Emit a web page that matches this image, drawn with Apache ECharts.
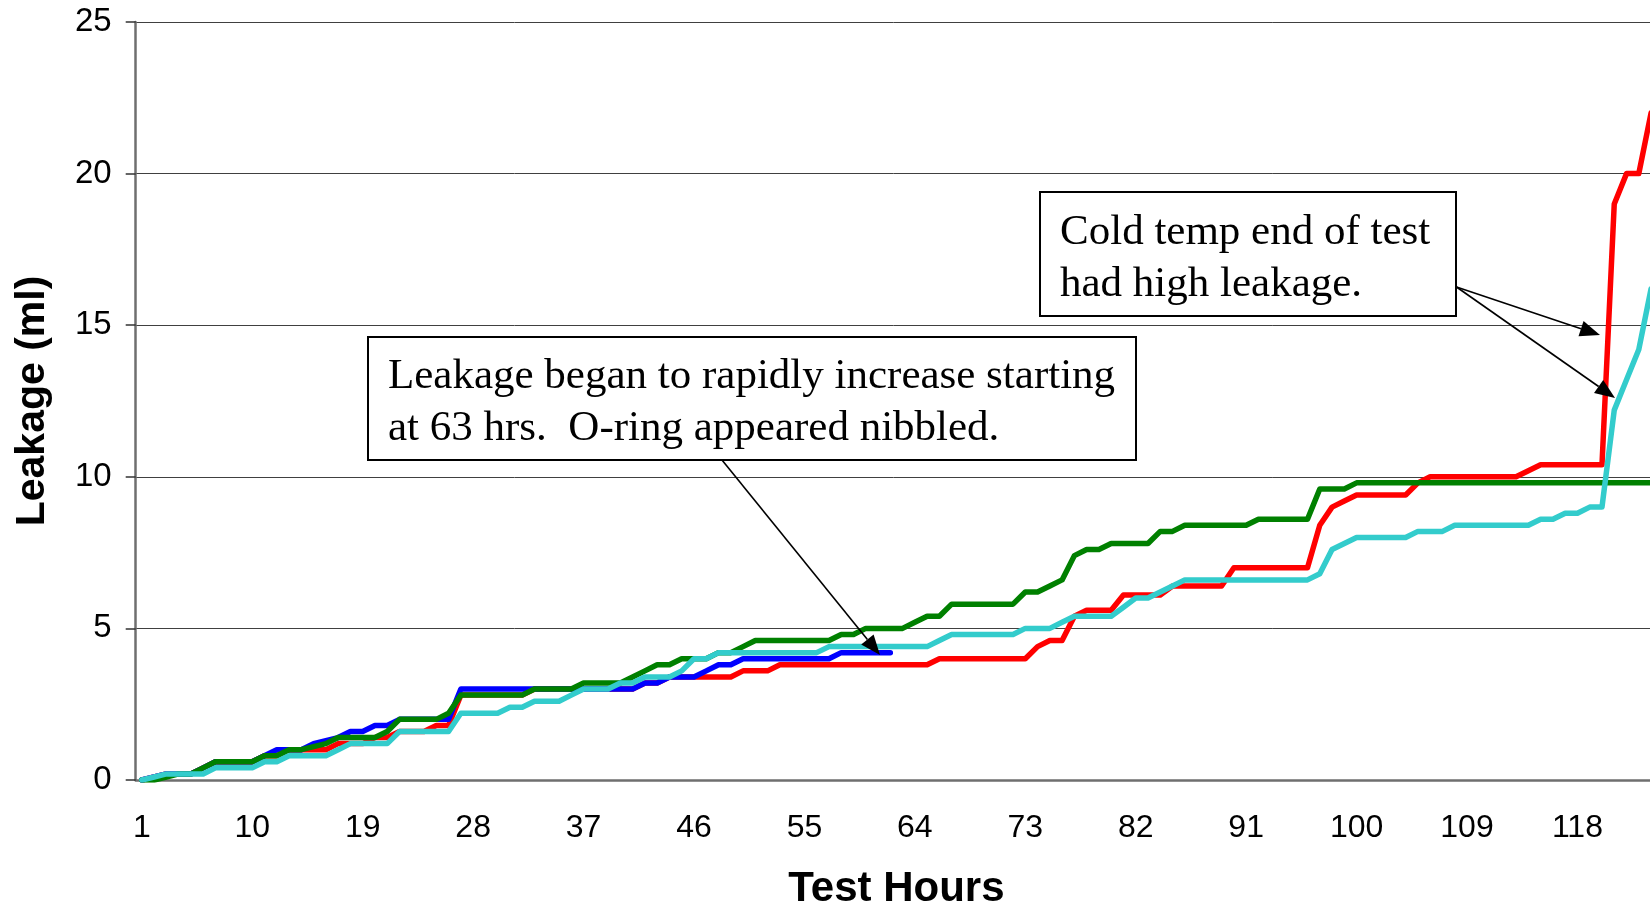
<!DOCTYPE html>
<html>
<head>
<meta charset="utf-8">
<script src="https://cdn.jsdelivr.net/npm/echarts@6/dist/echarts.min.js"></script>
<style>
  html, body { margin: 0; padding: 0; background: #fff; }
  #chart { width: 1650px; height: 908px; }
</style>
</head>
<body>
<div id="chart"></div>
<script>
// test hours 1..124 (category axis)
var hours = [];
for (var h = 1; h <= 124; h++) hours.push(String(h));

var yTicks = [0, 5, 10, 15, 20, 25];

// leakage (ml)
var redData = [
  0, 0.1, 0.2, 0.2, 0.2, 0.4, 0.6, 0.6, 0.6, 0.6,
  0.8, 0.8, 1.0, 1.0, 1.0, 1.0, 1.2, 1.2, 1.2, 1.4,
  1.4, 1.6, 1.6, 1.6, 1.8, 1.8, 2.8, 2.8, 2.8, 2.8,
  2.8, 2.8, 3.0, 3.0, 3.0, 3.0, 3.0, 3.0, 3.0, 3.0,
  3.0, 3.2, 3.2, 3.4, 3.4, 3.4, 3.4, 3.4, 3.4, 3.6,
  3.6, 3.6, 3.8, 3.8, 3.8, 3.8, 3.8, 3.8, 3.8, 3.8,
  3.8, 3.8, 3.8, 3.8, 3.8, 4.0, 4.0, 4.0, 4.0, 4.0,
  4.0, 4.0, 4.0, 4.4, 4.6, 4.6, 5.4, 5.6, 5.6, 5.6,
  6.1, 6.1, 6.1, 6.1, 6.4, 6.4, 6.4, 6.4, 6.4, 7.0,
  7.0, 7.0, 7.0, 7.0, 7.0, 7.0, 8.4, 9.0, 9.2, 9.4,
  9.4, 9.4, 9.4, 9.4, 9.8, 10.0, 10.0, 10.0, 10.0, 10.0,
  10.0, 10.0, 10.0, 10.2, 10.4, 10.4, 10.4, 10.4, 10.4, 10.4,
  19, 20, 20, 22
];
var blueData = [
  0, 0.1, 0.2, 0.2, 0.2, 0.4, 0.6, 0.6, 0.6, 0.6,
  0.8, 1.0, 1.0, 1.0, 1.2, 1.3, 1.4, 1.6, 1.6, 1.8,
  1.8, 2.0, 2.0, 2.0, 2.0, 2.0, 3.0, 3.0, 3.0, 3.0,
  3.0, 3.0, 3.0, 3.0, 3.0, 3.0, 3.0, 3.0, 3.0, 3.0,
  3.0, 3.2, 3.2, 3.4, 3.4, 3.4, 3.6, 3.8, 3.8, 4.0,
  4.0, 4.0, 4.0, 4.0, 4.0, 4.0, 4.0, 4.2, 4.2, 4.2,
  4.2, 4.2
];
var greenData = [
  0, 0, 0.1, 0.2, 0.2, 0.4, 0.6, 0.6, 0.6, 0.6,
  0.8, 0.8, 1.0, 1.0, 1.1, 1.2, 1.4, 1.4, 1.4, 1.4,
  1.6, 2.0, 2.0, 2.0, 2.0, 2.2, 2.8, 2.8, 2.8, 2.8,
  2.8, 2.8, 3.0, 3.0, 3.0, 3.0, 3.2, 3.2, 3.2, 3.2,
  3.4, 3.6, 3.8, 3.8, 4.0, 4.0, 4.0, 4.2, 4.2, 4.4,
  4.6, 4.6, 4.6, 4.6, 4.6, 4.6, 4.6, 4.8, 4.8, 5.0,
  5.0, 5.0, 5.0, 5.2, 5.4, 5.4, 5.8, 5.8, 5.8, 5.8,
  5.8, 5.8, 6.2, 6.2, 6.4, 6.6, 7.4, 7.6, 7.6, 7.8,
  7.8, 7.8, 7.8, 8.2, 8.2, 8.4, 8.4, 8.4, 8.4, 8.4,
  8.4, 8.6, 8.6, 8.6, 8.6, 8.6, 9.6, 9.6, 9.6, 9.8,
  9.8, 9.8, 9.8, 9.8, 9.8, 9.8, 9.8, 9.8, 9.8, 9.8,
  9.8, 9.8, 9.8, 9.8, 9.8, 9.8, 9.8, 9.8, 9.8, 9.8,
  9.8, 9.8, 9.8, 9.8
];
var cyanData = [
  0, 0.1, 0.2, 0.2, 0.2, 0.2, 0.4, 0.4, 0.4, 0.4,
  0.6, 0.6, 0.8, 0.8, 0.8, 0.8, 1.0, 1.2, 1.2, 1.2,
  1.2, 1.6, 1.6, 1.6, 1.6, 1.6, 2.2, 2.2, 2.2, 2.2,
  2.4, 2.4, 2.6, 2.6, 2.6, 2.8, 3.0, 3.0, 3.0, 3.2,
  3.2, 3.4, 3.4, 3.4, 3.6, 4.0, 4.0, 4.2, 4.2, 4.2,
  4.2, 4.2, 4.2, 4.2, 4.2, 4.2, 4.4, 4.4, 4.4, 4.4,
  4.4, 4.4, 4.4, 4.4, 4.4, 4.6, 4.8, 4.8, 4.8, 4.8,
  4.8, 4.8, 5.0, 5.0, 5.0, 5.2, 5.4, 5.4, 5.4, 5.4,
  5.7, 6.0, 6.0, 6.2, 6.4, 6.6, 6.6, 6.6, 6.6, 6.6,
  6.6, 6.6, 6.6, 6.6, 6.6, 6.6, 6.8, 7.6, 7.8, 8.0,
  8.0, 8.0, 8.0, 8.0, 8.2, 8.2, 8.2, 8.4, 8.4, 8.4,
  8.4, 8.4, 8.4, 8.4, 8.6, 8.6, 8.8, 8.8, 9.0, 9.0,
  12.2, 13.2, 14.2, 16.2
];

var note1 = ['Leakage began to rapidly increase starting', 'at 63 hrs.  O-ring appeared nibbled.'];
var note2 = ['Cold temp end of test', 'had high leakage.'];

// line with a filled arrow head at (x2, y2)
function arrow(x1, y1, x2, y2) {
  var dx = x2 - x1, dy = y2 - y1;
  var len = Math.sqrt(dx * dx + dy * dy);
  var ux = dx / len, uy = dy / len;
  var hl = 20, hw = 8;
  var bx = x2 - ux * hl, by = y2 - uy * hl;
  return [
    { type: 'line', shape: { x1: x1, y1: y1, x2: bx, y2: by }, style: { stroke: '#000', lineWidth: 1.6 }, z: 100 },
    { type: 'polygon', shape: { points: [[x2, y2], [bx - uy * hw, by + ux * hw], [bx + uy * hw, by - ux * hw]] }, style: { fill: '#000' }, z: 100 }
  ];
}

function noteBox(x, y, w, h, lines, tx, ty, lh) {
  var els = [{ type: 'rect', shape: { x: x, y: y, width: w, height: h }, style: { fill: '#fff', stroke: '#000', lineWidth: 2 }, z: 100 }];
  lines.forEach(function (t, i) {
    els.push({ type: 'text', x: tx, y: ty + i * lh, style: { text: t, fill: '#000', font: '43px "Liberation Serif"', textVerticalAlign: 'middle' }, z: 101 });
  });
  return els;
}

var myChart = echarts.init(document.getElementById('chart'));
var lineStyle = function (c) { return { width: 5.5, color: c, cap: 'round', join: 'round' }; };

var option = {
  animation: false,
  grid: { left: 135.7, top: 22, width: 1521.5, height: 758, containLabel: false, outerBoundsMode: 'none' },
  xAxis: {
    type: 'category',
    data: hours,
    boundaryGap: true,
    name: 'Test Hours',
    nameLocation: 'middle',
    nameGap: 88,
    nameTextStyle: { fontFamily: 'Liberation Sans', fontWeight: 'bold', fontSize: 42, color: '#000' },
    axisLine: { lineStyle: { color: '#6f6f6f', width: 2.5 } },
    axisTick: { interval: 4, length: 14, lineStyle: { color: '#333', width: 1.5 } },
    axisLabel: { interval: 8, fontFamily: 'Liberation Sans', fontSize: 32, color: '#000', margin: 32 },
    splitLine: { show: false }
  },
  yAxis: {
    type: 'value',
    min: yTicks[0],
    max: yTicks[yTicks.length - 1],
    interval: 5,
    name: 'Leakage (ml)',
    nameLocation: 'middle',
    nameGap: 83,
    nameTextStyle: { fontFamily: 'Liberation Sans', fontWeight: 'bold', fontSize: 41, color: '#000' },
    axisLine: { show: true, lineStyle: { color: '#6f6f6f', width: 2.5 } },
    axisTick: { show: true, length: 10, lineStyle: { color: '#333', width: 1.5 } },
    axisLabel: { fontFamily: 'Liberation Sans', fontSize: 33, color: '#000', margin: 24 },
    splitLine: { show: true, lineStyle: { color: '#404040', width: 1 } }
  },
  series: [
    { name: 'red', type: 'line', data: redData, showSymbol: false, lineStyle: lineStyle('#ff0000') },
    { name: 'blue', type: 'line', data: blueData, showSymbol: false, lineStyle: lineStyle('#0000ff') },
    { name: 'green', type: 'line', data: greenData, showSymbol: false, lineStyle: lineStyle('#008000') },
    { name: 'cyan', type: 'line', data: cyanData, showSymbol: false, lineStyle: lineStyle('#33cccc') }
  ],
  graphic: [].concat(
    noteBox(368, 337, 768, 123, note1, 388, 377, 52),
    arrow(722, 460, 880, 655),
    noteBox(1040, 192, 416, 124, note2, 1060, 233, 52),
    arrow(1456.5, 287, 1600, 335),
    arrow(1456.5, 287, 1615, 398)
  )
};
myChart.setOption(option);
</script>
</body>
</html>
